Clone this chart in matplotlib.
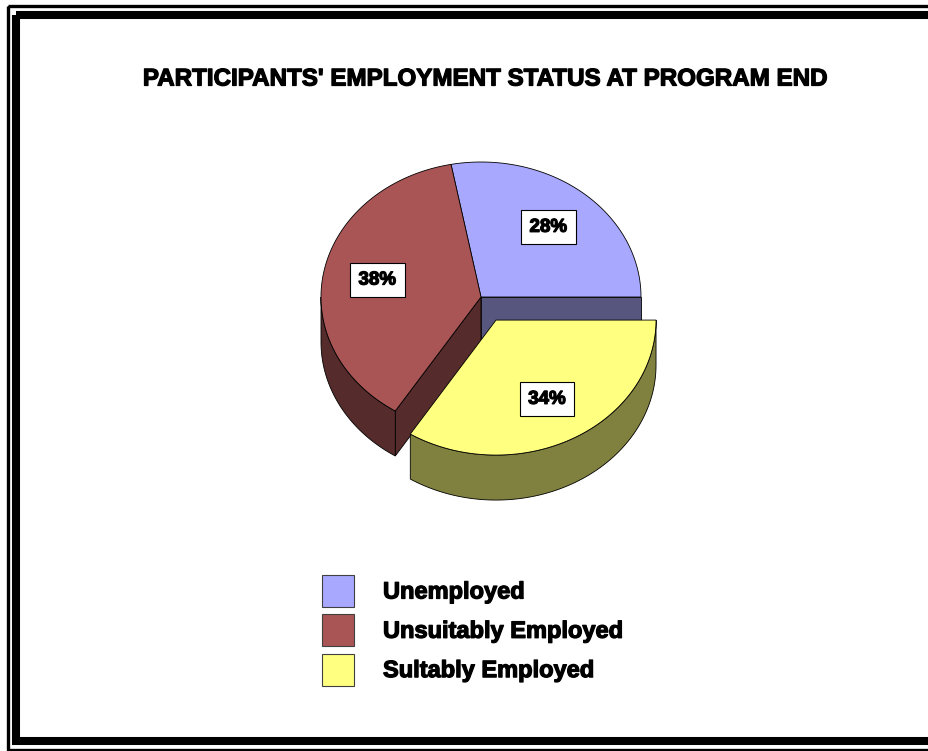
#3D-looking pie of employment status, with one slice pulled out
import numpy as np
import matplotlib.pyplot as plt
import matplotlib.patheffects as pe
from matplotlib.patches import Polygon, Rectangle

plt.rcParams['font.family'] = ['Liberation Sans', 'DejaVu Sans']

categories = ['Unemployed', 'Unsuitably Employed', 'Sultably Employed']
shares = [28, 38, 34]
explode = [0, 0, 0.195]
top_colors = ['#A8A8FF', '#AA5555', '#FFFF80']
side_colors = ['#56567F', '#552B2B', '#80803F']
title = "PARTICIPANTS' EMPLOYMENT STATUS AT PROGRAM END"

# heavier look of the original bold text
heavy = [pe.withStroke(linewidth=0.9, foreground='black')]

fig = plt.figure(figsize=(9.29, 7.51), dpi=100)
ax = fig.add_axes([0, 0, 1, 1])
ax.set_xlim(0, 929)
ax.set_ylim(751, 0)
ax.axis('off')

# frame
ax.add_patch(Rectangle((8, 5.5), 940, 744, fill=False, ec='black', lw=2.4))
ax.add_patch(Rectangle((16, 15), 914, 726, fill=False, ec='black', lw=5.8))

ax.text(485, 79, title, ha='center', va='center', fontsize=17.4,
        fontweight='bold', path_effects=heavy)

# pie geometry (pixels)
cx, cy, rx, ry, depth = 481, 297, 160, 135, 45


def pt(t, off, dz=0.0):
    return (cx + off[0] + rx * np.cos(t), cy + off[1] - ry * np.sin(t) + dz)


total = float(sum(shares))
bounds = np.concatenate([[0], np.cumsum(shares) / total * 2 * np.pi])
wedges = []
for i in range(len(shares)):
    a0, a1 = bounds[i], bounds[i + 1]
    mid = (a0 + a1) / 2
    off = (explode[i] * rx * np.cos(mid), -explode[i] * ry * np.sin(mid))
    wedges.append((a0, a1, mid, off))


def draw_sides(i):
    a0, a1, mid, off = wedges[i]
    n = len(wedges)
    pulled = explode[i] > 0
    # radial cut faces
    faces = []
    if np.cos(a0) > 0 and (pulled or explode[(i - 1) % n] > 0):
        faces.append(a0)
    if np.cos(a1) < 0 and (pulled or explode[(i + 1) % n] > 0):
        faces.append(a1)
    c = (cx + off[0], cy + off[1])
    for a in faces:
        e = pt(a, off)
        quad = [c, e, (e[0], e[1] + depth), (c[0], c[1] + depth)]
        ax.add_patch(Polygon(quad, closed=True, fc=side_colors[i],
                             ec='black', lw=0.6))
    # outer wall, front half only
    lo, hi = max(a0, np.pi), min(a1, 2 * np.pi)
    if hi > lo:
        t = np.linspace(lo, hi, 80)
        upper = [pt(tt, off) for tt in t]
        lower = [pt(tt, off, depth) for tt in t[::-1]]
        ax.add_patch(Polygon(upper + lower, closed=True, fc=side_colors[i],
                             ec='black', lw=0.6))


def draw_top(i):
    a0, a1, mid, off = wedges[i]
    t = np.linspace(a0, a1, 120)
    poly = [(cx + off[0], cy + off[1])] + [pt(tt, off) for tt in t]
    ax.add_patch(Polygon(poly, closed=True, fc=top_colors[i], ec='black',
                         lw=0.6))
    lx, ly = pt(mid, off)
    lx = cx + off[0] + 0.66 * (lx - cx - off[0])
    ly = cy + off[1] + 0.67 * (ly - cy - off[1])
    ax.text(lx, ly, '%d%%' % shares[i], ha='center', va='center',
            fontsize=13.5, fontweight='bold', path_effects=heavy,
            bbox=dict(boxstyle='square,pad=0.45', fc='white', ec='black',
                      lw=0.8))


order = [i for i in range(len(shares)) if explode[i] == 0]
pulled_out = [i for i in range(len(shares)) if explode[i] > 0]
for i in order:
    draw_sides(i)
for i in order:
    draw_top(i)
for i in pulled_out:
    draw_sides(i)
    draw_top(i)

# legend
for i, name in enumerate(categories):
    y = 575 + i * 39.3
    ax.add_patch(Rectangle((322, y), 32, 32, fc=top_colors[i], ec='#404040',
                           lw=0.8))
    ax.text(383, y + 17, name, ha='left', va='center', fontsize=17,
            fontweight='bold', path_effects=heavy)

fig.savefig('out.png', dpi=100)
